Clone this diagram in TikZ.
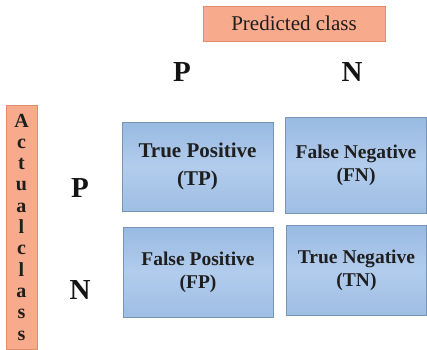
\documentclass[tikz,border=0pt]{standalone}
\usepackage{fontspec}
\setmainfont{Liberation Serif}
\begin{document}
\begin{tikzpicture}[x=1pt,y=-1pt,
  salmon/.style={draw={rgb,255:red,222;green,140;blue,105},fill={rgb,255:red,247;green,170;blue,140},line width=0.8pt},
  cell/.style={draw={rgb,255:red,120;green,148;blue,182},top color={rgb,255:red,152;green,186;blue,226},bottom color={rgb,255:red,158;green,190;blue,228},middle color={rgb,255:red,178;green,204;blue,236},line width=0.8pt,inner sep=0pt,
     align=center,text={rgb,255:red,30;green,30;blue,30}},
  big/.style={font=\fontsize{21}{28}\selectfont\bfseries},
  small/.style={font=\fontsize{19.5}{23}\selectfont\bfseries},
  hdr/.style={font=\fontsize{29}{32}\selectfont\bfseries,text={rgb,255:red,20;green,20;blue,20}}]
\useasboundingbox (0,0) rectangle (427,349);
% Predicted class
\node[salmon,minimum width=182pt,minimum height=35pt,inner sep=0pt,font=\fontsize{21}{24}\selectfont,text={rgb,255:red,30;green,30;blue,30}] (pred) at (294,23.5) {Predicted class};
% Actual class
\node[salmon,minimum width=31pt,minimum height=244pt,inner sep=0pt,align=center,font=\fontsize{20}{21.3}\selectfont\bfseries,text={rgb,255:red,30;green,30;blue,30}] (act) at (21.5,227) {A\\c\\t\\u\\a\\l\\c\\l\\a\\s\\s};
% headers
\node[hdr] (colP) at (182,72) {P};
\node[hdr] (colN) at (352,72) {N};
\node[hdr] (rowP) at (80,188) {P};
\node[hdr] (rowN) at (80,290) {N};
% cells
\node[cell,big,minimum width=151pt,minimum height=89pt] (tp) at (197.5,166.5) {True Positive\\(TP)};
\node[cell,small,minimum width=141pt,minimum height=96pt] (fn) at (356,165) {False Negative\\(FN)};
\node[cell,small,minimum width=150pt,minimum height=90pt] (fp) at (198,272) {False Positive\\(FP)};
\node[cell,small,minimum width=140pt,minimum height=90pt] (tn) at (356.5,270) {True Negative\\(TN)};
\end{tikzpicture}
\end{document}
